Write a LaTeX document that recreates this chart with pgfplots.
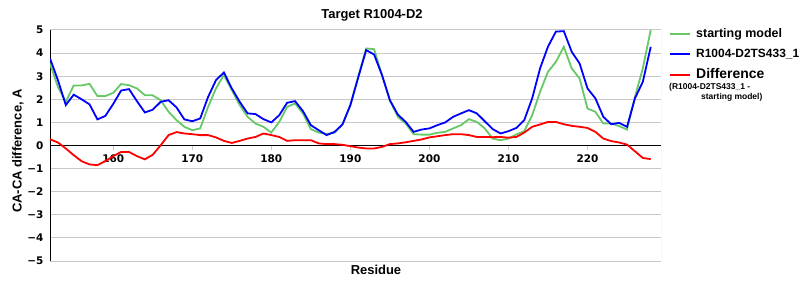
\documentclass[border=0pt]{standalone}
\usepackage{fontspec}
\setmainfont{Liberation Sans}
\newfontfamily\dejavu{DejaVu Sans}
\usepackage{pgfplots}
\pgfplotsset{compat=1.18}
\definecolor{cgreen}{RGB}{102,200,102}
\definecolor{cblue}{RGB}{0,0,255}
\definecolor{cred}{RGB}{255,0,0}
\definecolor{cgrid}{RGB}{200,200,200}
\begin{document}
\begin{tikzpicture}[x=1bp,y=1bp]
\useasboundingbox (0,0) rectangle (800,300);
\begin{axis}[
  at={(50bp,39bp)}, anchor=south west,
  scale only axis, width=611bp, height=231bp,
  xmin=152, xmax=229.3, ymin=-5, ymax=5,
  axis x line*=middle, axis y line*=left,
  axis line style={black, line width=1bp},
  xtick={160,170,...,220},
  ytick={-5,-4,...,5},
  yticklabels={−5,−4,−3,−2,−1,0,1,2,3,4,5},
  /pgf/number format/assume math mode=true,
  ymajorgrids, grid style={cgrid, line width=1bp},
  ytick style={draw=none},
  xtick style={cgrid, line width=1bp},
  xtick align=outside, major tick length=5bp,
  tick label style={font=\dejavu\bfseries\fontsize{10.5}{12}\selectfont, text=black},
  xticklabel style={yshift=-1bp},
  yticklabel style={xshift=-3bp},
  clip=true,
]
\draw[cgrid, line width=1bp] (rel axis cs:1,0) -- (rel axis cs:1,1);
\addplot[cgreen, line width=1.8bp, mark=none] coordinates {
(152,3.55)(153,2.54)(154,1.89)(155,2.6)(156,2.6)(157,2.67)(158,2.14)(159,2.14)(160,2.28)(161,2.66)
(162,2.61)(163,2.47)(164,2.18)(165,2.17)(166,1.96)(167,1.46)(168,1.1)(169,0.81)(170,0.66)(171,0.74)
(172,1.67)(173,2.47)(174,3.05)(175,2.4)(176,1.75)(177,1.24)(178,0.95)(179,0.81)(180,0.56)(181,1.02)
(182,1.67)(183,1.82)(184,1.39)(185,0.71)(186,0.56)(187,0.5)(188,0.55)(189,0.91)(190,1.75)(191,3.0)
(192,4.2)(193,4.17)(194,3.05)(195,1.96)(196,1.24)(197,0.95)(198,0.49)(199,0.47)(200,0.47)(201,0.55)
(202,0.59)(203,0.74)(204,0.88)(205,1.14)(206,1.02)(207,0.74)(208,0.3)(209,0.23)(210,0.3)(211,0.48)
(212,0.62)(213,1.31)(214,2.32)(215,3.19)(216,3.62)(217,4.27)(218,3.34)(219,2.9)(220,1.6)(221,1.46)
(222,0.95)(223,0.95)(224,0.84)(225,0.69)(226,2.1)(227,3.34)(228,5.0)
};
\addplot[cblue, line width=1.8bp, mark=none] coordinates {
(152,3.77)(153,2.83)(154,1.75)(155,2.2)(156,2.0)(157,1.78)(158,1.13)(159,1.28)(160,1.8)(161,2.38)
(162,2.44)(163,1.92)(164,1.43)(165,1.55)(166,1.89)(167,1.96)(168,1.65)(169,1.13)(170,1.05)(171,1.17)
(172,2.1)(173,2.83)(174,3.16)(175,2.47)(176,1.89)(177,1.39)(178,1.36)(179,1.14)(180,1.0)(181,1.31)
(182,1.85)(183,1.92)(184,1.49)(185,0.88)(186,0.66)(187,0.45)(188,0.59)(189,0.91)(190,1.75)(191,2.95)
(192,4.13)(193,3.94)(194,3.05)(195,1.96)(196,1.34)(197,1.02)(198,0.59)(199,0.69)(200,0.74)(201,0.88)
(202,1.0)(203,1.24)(204,1.39)(205,1.53)(206,1.39)(207,1.05)(208,0.71)(209,0.52)(210,0.62)(211,0.76)
(212,1.1)(213,2.04)(214,3.34)(215,4.28)(216,4.93)(217,4.95)(218,4.06)(219,3.55)(220,2.47)(221,2.04)
(222,1.24)(223,0.92)(224,0.98)(225,0.81)(226,2.04)(227,2.76)(228,4.27)
};
\addplot[cred, line width=1.8bp, mark=none] coordinates {
(152,0.27)(153,0.13)(154,-0.13)(155,-0.42)(156,-0.68)(157,-0.82)(158,-0.85)(159,-0.68)(160,-0.46)(161,-0.28)
(162,-0.28)(163,-0.46)(164,-0.6)(165,-0.4)(166,0.01)(167,0.45)(168,0.58)(169,0.52)(170,0.49)(171,0.45)
(172,0.45)(173,0.35)(174,0.2)(175,0.11)(176,0.2)(177,0.3)(178,0.37)(179,0.52)(180,0.45)(181,0.37)
(182,0.2)(183,0.23)(184,0.23)(185,0.23)(186,0.09)(187,0.06)(188,0.06)(189,0.03)(190,-0.03)(191,-0.09)
(192,-0.13)(193,-0.13)(194,-0.06)(195,0.06)(196,0.09)(197,0.14)(198,0.2)(199,0.26)(200,0.35)(201,0.4)
(202,0.45)(203,0.49)(204,0.49)(205,0.45)(206,0.37)(207,0.37)(208,0.36)(209,0.37)(210,0.34)(211,0.37)
(212,0.56)(213,0.81)(214,0.91)(215,1.02)(216,1.02)(217,0.92)(218,0.85)(219,0.81)(220,0.76)(221,0.59)
(222,0.3)(223,0.19)(224,0.13)(225,0.04)(226,-0.25)(227,-0.54)(228,-0.59)
};
\end{axis}
\node[font=\bfseries\fontsize{13}{15}\selectfont] at (372,285) {Target R1004-D2};
\node[font=\bfseries\fontsize{13}{15}\selectfont] at (376,30) {Residue};
\node[font=\bfseries\fontsize{13}{15}\selectfont, rotate=90] at (18,149) {CA-CA difference, A};
% legend
\draw[cgreen, line width=1.8bp] (670,266) -- (690,266);
\node[font=\bfseries\fontsize{12.5}{14}\selectfont, anchor=west, inner sep=0pt] at (696,266) {starting model};
\draw[cblue, line width=1.8bp] (670,246) -- (690,246);
\node[font=\bfseries\fontsize{12}{14}\selectfont, anchor=west, inner sep=0pt] at (696,246) {R1004-D2TS433\_1};
\draw[cred, line width=1.8bp] (670,225) -- (690,225);
\node[font=\bfseries\fontsize{14}{16}\selectfont, anchor=west, inner sep=0pt] at (696,226) {Difference};
\node[font=\bfseries\fontsize{8.5}{10}\selectfont, anchor=west, inner sep=0pt] at (669,213) {(R1004-D2TS433\_1 -};
\node[font=\bfseries\fontsize{8.5}{10}\selectfont, anchor=west, inner sep=0pt] at (701,203) {starting model)};
\end{tikzpicture}
\end{document}
